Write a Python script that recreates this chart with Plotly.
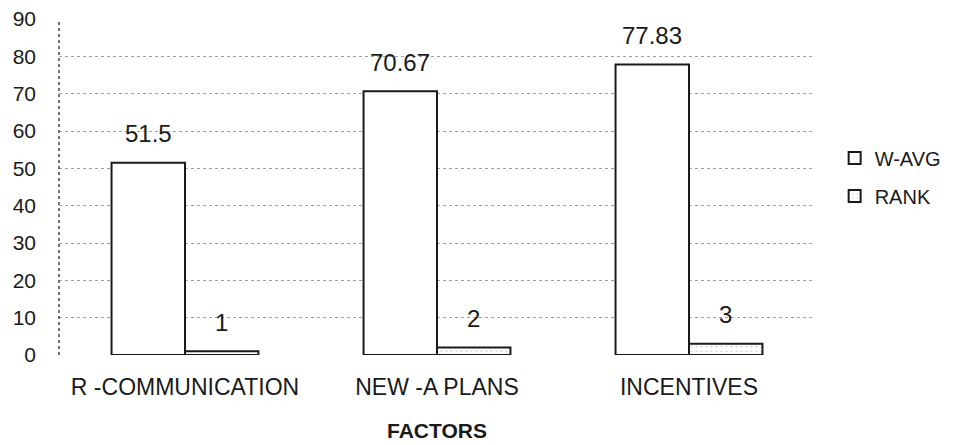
import plotly.graph_objects as go

factors = ["R -COMMUNICATION", "NEW -A PLANS", "INCENTIVES"]
w_avg = [51.5, 70.67, 77.83]
rank = [1, 2, 3]
y_ticks = [0, 10, 20, 30, 40, 50, 60, 70, 80, 90]

font_family = "Liberation Sans, Arial, sans-serif"
ink = "#1a1a1a"

W, H = 964, 445
margin = dict(l=59, r=149, t=19, b=90)
bargap = 0.417

fig = go.Figure()
fig.add_trace(go.Bar(
    name="W-AVG", x=factors, y=w_avg, legendgroup="wavg",
    marker=dict(color="white", line=dict(color=ink, width=2)),
))
fig.add_trace(go.Bar(
    name="RANK", x=factors, y=rank, legendgroup="rank",
    marker=dict(color="white", line=dict(color=ink, width=2),
                pattern=dict(shape=".", fgcolor="#b0b0b0", size=5, solidity=0.15)),
))

# value labels sit above each bar; the horizontal offset is half a bar width,
# derived from the plot width, number of categories and the bar gap
plot_w = W - margin["l"] - margin["r"]
half_bar = plot_w / len(factors) * (1 - bargap) / 4
for series, sign in ((w_avg, -1), (rank, 1)):
    for cat, val in zip(factors, series):
        fig.add_annotation(
            x=cat, y=val, xref="x", yref="y",
            text=f"{val}", showarrow=False,
            xshift=sign * half_bar, yshift=29, yanchor="middle",
            font=dict(size=24, color=ink, family=font_family),
        )

fig.update_layout(
    width=W, height=H,
    margin=margin,
    paper_bgcolor="white", plot_bgcolor="white",
    barmode="group", bargap=bargap, bargroupgap=0,
    font=dict(family=font_family, size=20, color=ink),
    showlegend=True,
    legend=dict(x=1.026, y=0.53, xanchor="left", yanchor="middle",
                font=dict(size=20, color=ink), tracegroupgap=9,
                itemsizing="constant", bgcolor="rgba(0,0,0,0)"),
)

fig.update_xaxes(
    showgrid=False, showline=False, zeroline=False, automargin=False,
    ticks="", ticklabelstandoff=16,
    tickfont=dict(size=23, color=ink),
    title=dict(text="<b>FACTORS</b>", font=dict(size=21, color=ink), standoff=24),
)
fig.update_yaxes(
    range=[0, 90], tickvals=y_ticks, automargin=False,
    showgrid=True, gridcolor="#a0a0a0", gridwidth=1, griddash="dot",
    zeroline=False, showline=False,
    ticks="", ticklabelstandoff=22,
    tickfont=dict(size=21, color=ink),
)

# dotted vertical axis line on the left edge of the plot
fig.add_shape(type="line", xref="paper", yref="paper", x0=0, x1=0, y0=0, y1=1,
              line=dict(color="#444", width=1.5, dash="dot"))

fig.write_html("out.html")
